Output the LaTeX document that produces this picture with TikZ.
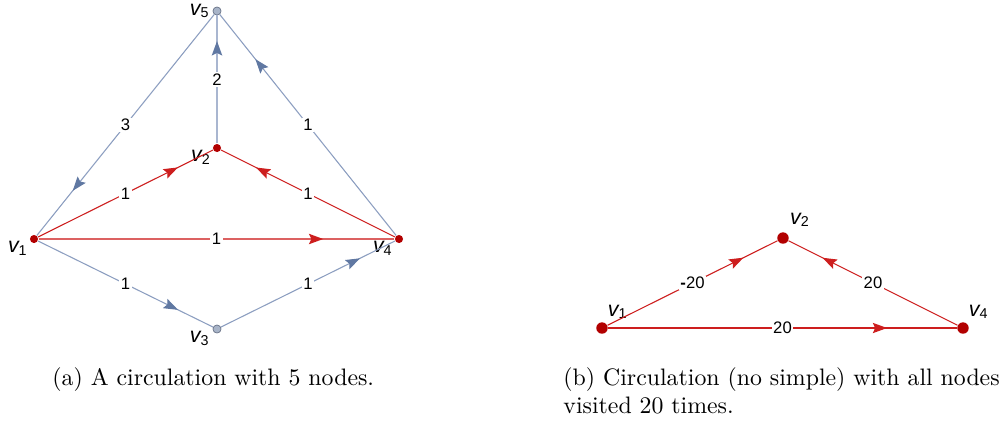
\documentclass[tikz,border=0pt]{standalone}
\usepackage{fontspec}
\newfontfamily\lblfont{Liberation Sans}
\usetikzlibrary{arrows.meta,decorations.markings}

\definecolor{vred}{RGB}{178,0,0}
\definecolor{ered}{RGB}{205,30,30}
\definecolor{egray}{RGB}{140,158,192}
\definecolor{agray}{RGB}{96,120,162}
\definecolor{vgray}{RGB}{168,180,200}
\definecolor{vgrayline}{RGB}{105,115,135}

\newcommand{\vx}[1]{{\itshape v}\textsubscript{#1}}

\begin{document}
\begin{tikzpicture}[x=0.42pt, y=-0.42pt,
	redv/.style={circle, fill=vred, inner sep=0pt, minimum size=3.4pt},
	grayv/.style={circle, fill=vgray, draw=vgrayline, line width=0.3pt, inner sep=0pt, minimum size=3.4pt},
	bigv/.style={redv, minimum size=4.8pt},
	vlab/.style={font=\lblfont\fontsize{9}{10}\selectfont, inner sep=0.5pt},
	wt/.style={fill=white, inner sep=0.6pt, font=\lblfont\fontsize{7}{8}\selectfont},
	redarc/.style={draw=ered, line width=0.45pt, postaction={decorate},
		decoration={markings, mark=at position 0.8 with {\arrow[ered]{Stealth[length=6pt,width=4.3pt,inset=1pt]}}}},
	grayarc/.style={draw=egray, line width=0.45pt, postaction={decorate},
		decoration={markings, mark=at position 0.8 with {\arrow[agray]{Stealth[length=6pt,width=4.3pt,inset=1pt]}}}}]
	\useasboundingbox (0,0) rectangle (1007,423);

	% (a) five nodes
	\node[grayv, label={[vlab, label distance=0.5pt]left:\vx{5}}] (a5) at (217,11) {};
	\node[redv, label={[vlab, label distance=0pt]192:\vx{2}}] (a2) at (217,148) {};
	\node[redv, label={[vlab, label distance=0pt]190:\vx{1}}] (a1) at (34,239) {};
	\node[redv, label={[vlab, label distance=0pt]190:\vx{4}}] (a4) at (399,239) {};
	\node[grayv, label={[vlab, label distance=0.5pt]190:\vx{3}}] (a3) at (217,329) {};

	\draw[grayarc] (a5) -- node[wt] {3} (a1);
	\draw[grayarc, line width=0.9pt, draw=egray!75] (a2) -- node[wt] {2} (a5);
	\draw[grayarc] (a4) -- node[wt] {1} (a5);
	\draw[grayarc] (a1) -- node[wt] {1} (a3);
	\draw[grayarc] (a3) -- node[wt] {1} (a4);
	\draw[redarc] (a1) -- node[wt] {1} (a2);
	\draw[redarc] (a4) -- node[wt] {1} (a2);
	\draw[redarc, line width=0.9pt, draw=ered!70] (a1) -- node[wt] {1} (a4);

	% (b) three nodes
	\node[bigv, label={[vlab, label distance=1pt]60:\vx{1}}] (b1) at (602,328) {};
	\node[bigv, label={[vlab, label distance=2pt]60:\vx{2}}] (b2) at (783,238) {};
	\node[bigv, label={[vlab, label distance=1pt]60:\vx{4}}] (b4) at (963,328) {};

	\draw[redarc] (b1) -- node[wt] {\textbf{-}20} (b2);
	\draw[redarc] (b4) -- node[wt] {20} (b2);
	\draw[redarc] (b1) -- node[wt] {20} (b4);

	% captions
	\node[anchor=base west, inner sep=0pt] (capa) at (52,385) {(a) A circulation with 5 nodes.};
	\node[anchor=north west, inner sep=0pt, align=left] (capb) at (563,367) {(b) Circulation (no simple) with all nodes\\visited 20 times.};
\end{tikzpicture}
\end{document}
